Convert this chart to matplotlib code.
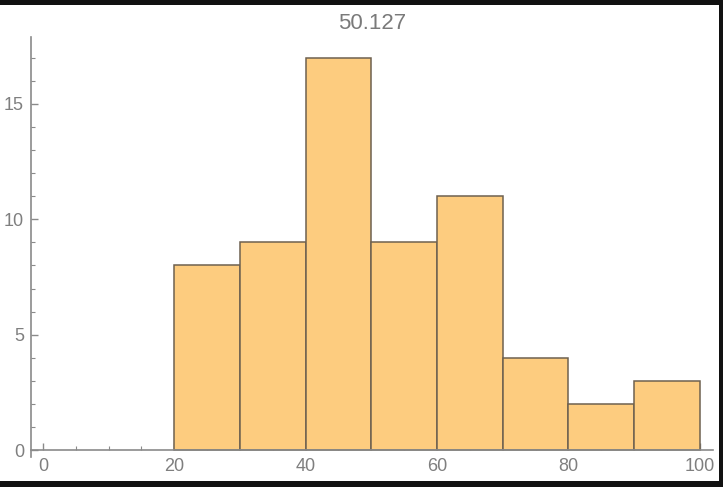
import matplotlib
matplotlib.use('Agg')
import matplotlib.pyplot as plt
from matplotlib.patches import Rectangle
from matplotlib.ticker import MultipleLocator

# histogram bins and counts
bin_edges = [20, 30, 40, 50, 60, 70, 80, 90, 100]
counts = [8, 9, 17, 9, 11, 4, 2, 3]
title = '50.127'

plt.rcParams['font.family'] = ['Liberation Sans', 'DejaVu Sans']

fig = plt.figure(figsize=(7.23, 4.87), dpi=100)
fig.patch.set_facecolor('white')

ax = fig.add_axes([31 / 723, 30 / 487, 682 / 723, 420 / 487])

widths = [b - a for a, b in zip(bin_edges[:-1], bin_edges[1:])]
ax.bar(bin_edges[:-1], counts, width=widths, align='edge',
       color='#fdcc7f', edgecolor='#6e6150', linewidth=1.1, zorder=2)

ax.set_xlim(-1.8, 102.0)
ax.set_ylim(-0.3, 17.9)

gray = '#8a8a8a'
for side in ['top', 'right']:
    ax.spines[side].set_visible(False)
ax.spines['bottom'].set_position(('data', 0))
for side in ['left', 'bottom']:
    ax.spines[side].set_color(gray)
    ax.spines[side].set_linewidth(1.2)
    ax.spines[side].set_zorder(3)

ax.xaxis.set_major_locator(MultipleLocator(20))
ax.xaxis.set_minor_locator(MultipleLocator(5))
ax.yaxis.set_major_locator(MultipleLocator(5))
ax.yaxis.set_minor_locator(MultipleLocator(1))

ax.tick_params(axis='both', which='both', direction='in', color=gray,
               labelcolor='#7f7f7f', labelsize=13)
ax.tick_params(axis='both', which='major', length=5, width=1.0)
ax.tick_params(axis='both', which='minor', length=3, width=0.8)
ax.tick_params(axis='x', which='major', pad=6)
ax.tick_params(axis='y', which='major', pad=5)

ax.set_title(title, fontsize=16, color='#7a7a7a', pad=6)

# black screenshot frame on top, right and bottom
fig.patches.append(Rectangle((0, 1 - 5 / 487), 1, 5 / 487, transform=fig.transFigure,
                             facecolor='#111111', edgecolor='none', zorder=10))
fig.patches.append(Rectangle((1 - 4 / 723, 0), 4 / 723, 1, transform=fig.transFigure,
                             facecolor='#111111', edgecolor='none', zorder=10))
fig.patches.append(Rectangle((0, 0), 1, 6 / 487, transform=fig.transFigure,
                             facecolor='#111111', edgecolor='none', zorder=10))

fig.savefig('out.png', dpi=100)
